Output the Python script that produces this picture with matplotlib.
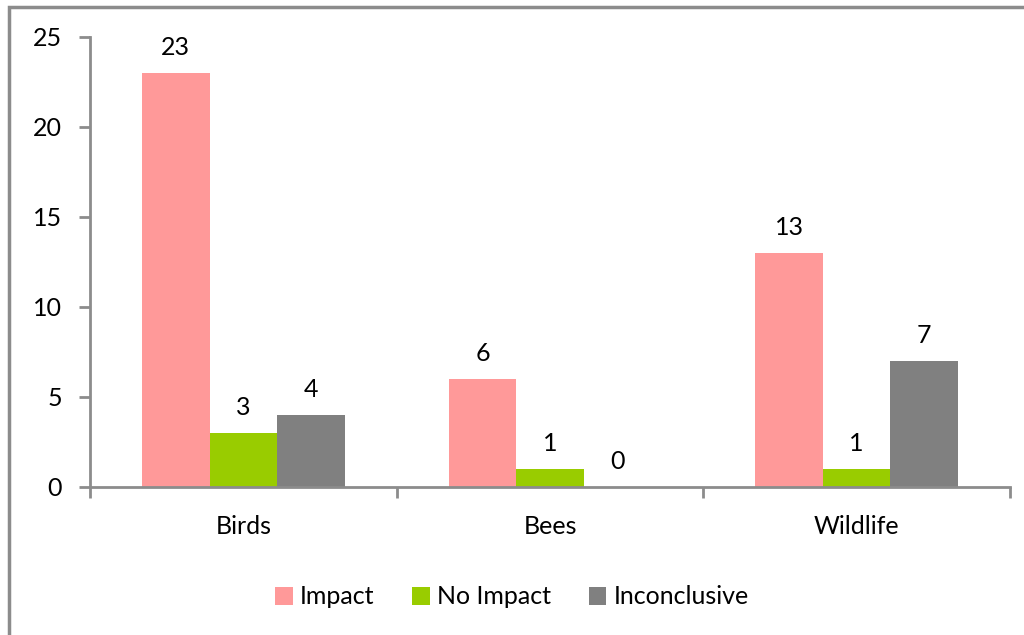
import matplotlib
matplotlib.use("Agg")
import matplotlib.pyplot as plt
from matplotlib.patches import Rectangle
import numpy as np

categories = ["Birds", "Bees", "Wildlife"]
series_names = ["Impact", "No Impact", "Inconclusive"]
impact = [23, 6, 13]
no_impact = [3, 1, 1]
inconclusive = [4, 0, 7]
colors = ["#FF9999", "#99CC00", "#808080"]
yticks = [0, 5, 10, 15, 20, 25]

plt.rcParams['font.family'] = ['Lato', 'DejaVu Sans']
FS = 18

fig = plt.figure(figsize=(10.24, 6.35), dpi=100)
fig.patches.append(Rectangle((9/1024, -0.1), 1.2, 1 - 7/635 + 0.1, transform=fig.transFigure,
                             fill=False, edgecolor="#8c8c8c", linewidth=2.5, zorder=0))
ax = fig.add_axes([90/1024, 1 - 487/635, 920/1024, 450/635])

x = np.arange(len(categories))
w = 0.22
data = [impact, no_impact, inconclusive]
for i, (vals, c, name) in enumerate(zip(data, colors, series_names)):
    bars = ax.bar(x + (i - 1) * w, vals, w, color=c, label=name, zorder=2)
    for b, v in zip(bars, vals):
        ax.annotate(str(v), (b.get_x() + b.get_width() / 2, v), xytext=(0, 10),
                    textcoords="offset points", ha="center", va="bottom", fontsize=FS)

ax.set_xlim(-0.5, len(categories) - 0.5)
ax.set_ylim(0, 25)
ax.set_yticks(yticks)
ax.set_yticklabels([str(t) for t in yticks], fontsize=FS)
ax.set_xticks(x)
ax.set_xticklabels(categories, fontsize=FS)
ax.set_xticks(np.arange(len(categories) + 1) - 0.5, minor=True)
ax.tick_params(axis="x", which="major", length=0, pad=20)
ax.tick_params(axis="x", which="minor", length=8, width=2, color="#8c8c8c")
ax.tick_params(axis="y", length=8, width=2, color="#8c8c8c", pad=12)
for s in ["top", "right"]:
    ax.spines[s].set_visible(False)
for s in ["left", "bottom"]:
    ax.spines[s].set_color("#8c8c8c")
    ax.spines[s].set_linewidth(2)

leg = fig.legend(loc="center", bbox_to_anchor=(0.5, 1 - 597/635), ncol=3, frameon=False,
                 fontsize=FS, handlelength=0.7, handleheight=0.7, handletextpad=0.3,
                 columnspacing=1.5)

fig.savefig("out.png", dpi=100)
